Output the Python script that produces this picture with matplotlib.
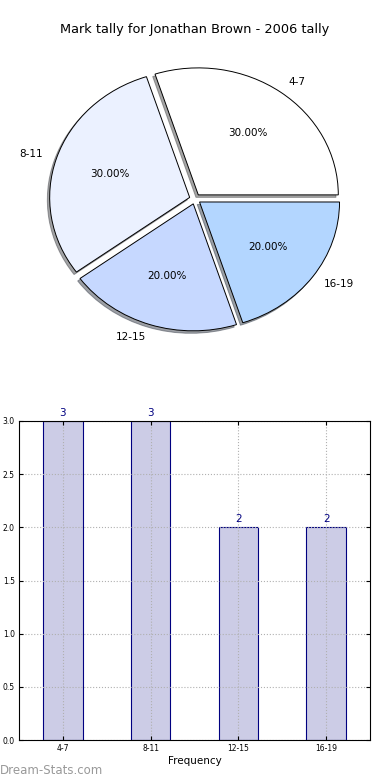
import matplotlib
matplotlib.use("Agg")
import matplotlib.pyplot as plt

categories = ["4-7", "8-11", "12-15", "16-19"]
counts = [3, 3, 2, 2]
pie_colors = ["#ffffff", "#ebf1ff", "#c6d8ff", "#b3d6ff"]

W, H = 390, 780
fig = plt.figure(figsize=(3.9, 7.8), dpi=100)

def box(l, t, r, b):
    return [l / W, 1 - b / H, (r - l) / W, (b - t) / H]

# Pie
rx, ry = 140, 127
cx, cy = 195, 199
lim = 1.25
axp = fig.add_axes(box(cx - lim * rx, cy - lim * ry, cx + lim * rx, cy + lim * ry))
axp.pie(counts, labels=categories, colors=pie_colors, explode=[0.04] * 4,
        autopct="%1.2f%%", shadow=dict(ox=-0.012, oy=-0.014, shade=0.7),
        startangle=0, pctdistance=0.6, labeldistance=1.1,
        wedgeprops=dict(edgecolor="black", linewidth=0.7),
        textprops=dict(fontsize=7.5))
axp.set_aspect("auto")
axp.set_xlim(-lim, lim)
axp.set_ylim(-lim, lim)
axp.axis("off")
fig.text(195 / W, 1 - 30 / H, "Mark tally for Jonathan Brown - 2006 tally",
         ha="center", va="center", fontsize=9.3)

# Bar
axb = fig.add_axes(box(19, 421, 370, 740))
x = list(range(len(categories)))
bars = axb.bar(x, counts, width=0.45, color="#ccccE6", edgecolor="#000080",
               linewidth=0.8, zorder=1)
for xi, v in zip(x, counts):
    axb.text(xi, v + 0.03, str(v), ha="center", va="bottom", fontsize=7.5,
             color="#000080")
axb.set_xlim(-0.5, 3.5)
axb.set_ylim(0, 3)
axb.set_xticks(x)
axb.set_xticklabels(categories)
axb.set_yticks([0, 0.5, 1.0, 1.5, 2.0, 2.5, 3.0])
axb.set_yticklabels(["0.0", "0.5", "1.0", "1.5", "2.0", "2.5", "3.0"])
axb.tick_params(labelsize=5.5, direction="in", length=3, top=True, right=True,
                pad=3)
axb.grid(True, linestyle=":", color="#b0b0b0", linewidth=0.8, zorder=2)
axb.set_axisbelow(False)
axb.set_xlabel("Frequency", fontsize=7.5, labelpad=2)
for s in axb.spines.values():
    s.set_linewidth(0.8)
    s.set_zorder(4)

fig.text(0 / W, 1 - 771 / H, "Dream-Stats.com", ha="left", va="center",
         fontsize=8.5, color="#999999")

fig.savefig("out.png", dpi=100)
